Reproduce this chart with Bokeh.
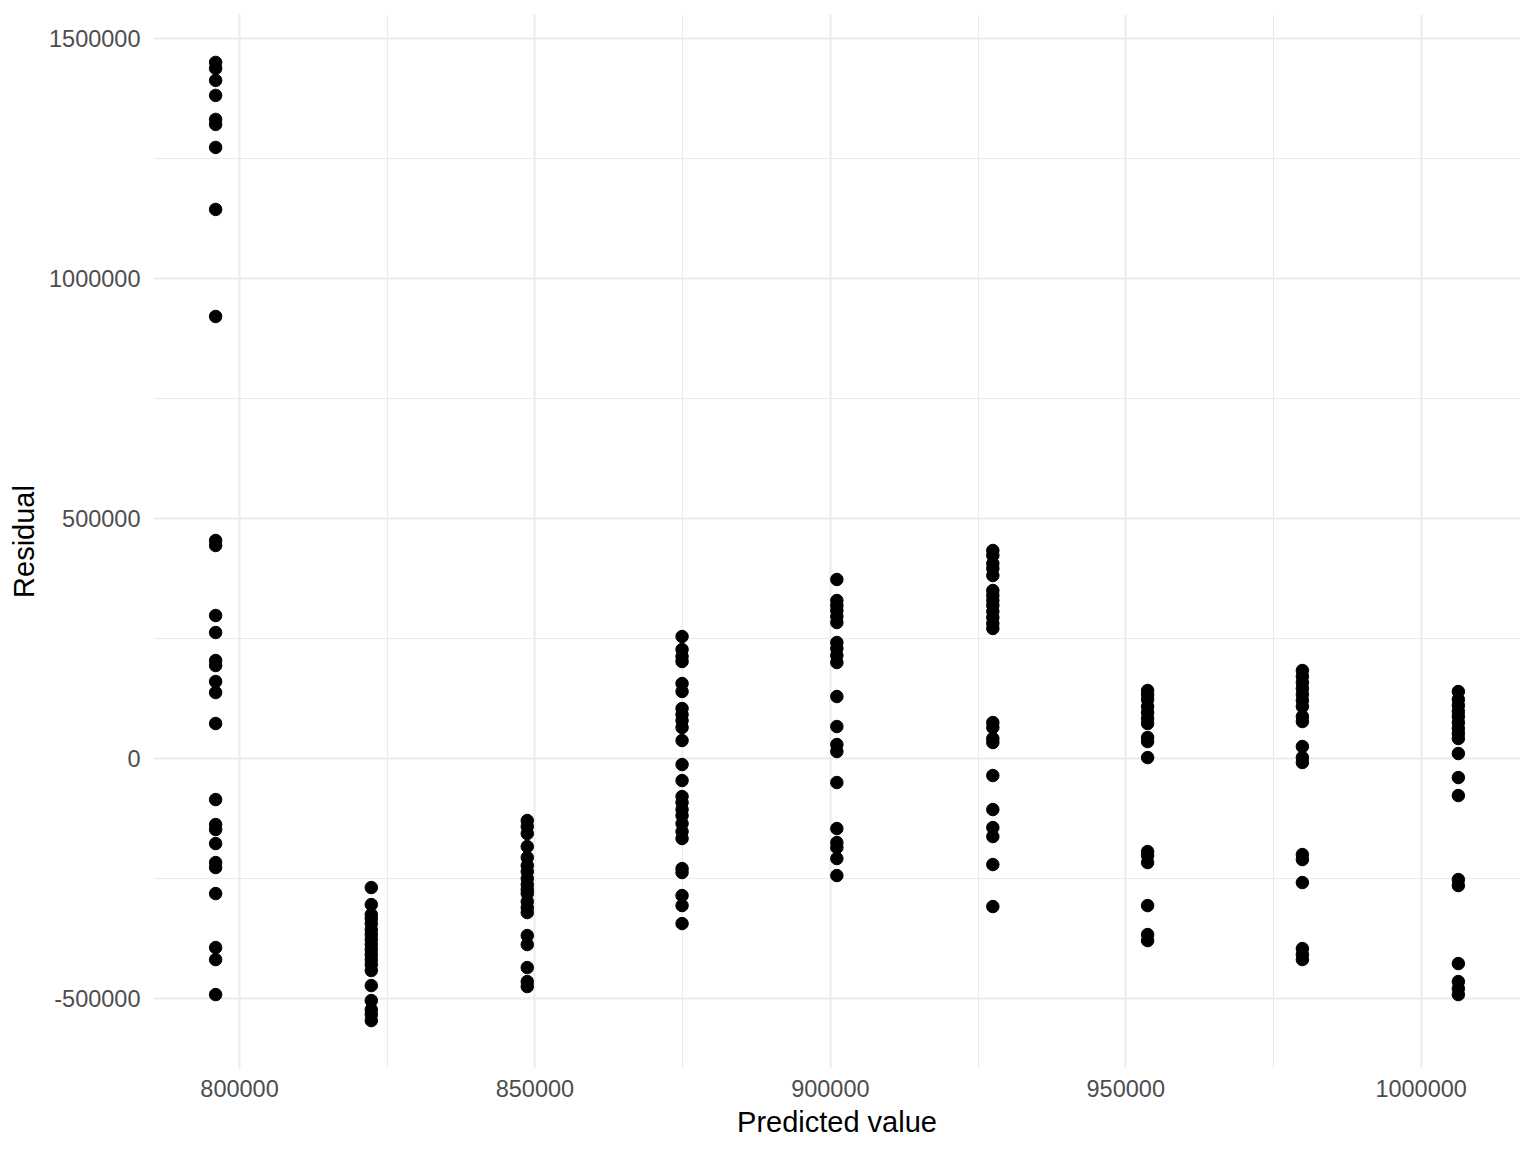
from bokeh.plotting import figure
from bokeh.models import SingleIntervalTicker, PrintfTickFormatter, Range1d, ColumnDataSource
from bokeh.embed import file_html
from bokeh.resources import INLINE

# Predicted value groups (x) and residuals (y)
pred_levels = [795950, 822300, 848700, 874900, 901100, 927500, 953700, 979900, 1006300]

res_g1 = [1450000, 1437500, 1412500, 1381250, 1331250, 1320833, 1272917, 1143750, 920833,
          454167, 443750, 297917, 262500, 204167, 193750, 160417, 137500, 72917,
          -85417, -137500, -147917, -177083, -216667, -227083, -281250, -393750, -418750, -491667]
res_g2 = [-268750, -304167, -325000, -333333, -343750, -356250, -366667, -377083, -387500,
          -397917, -408333, -418750, -429167, -441667, -472917, -504167, -522917, -533333, -545833]
res_g3 = [-129167, -141667, -156250, -183333, -206250, -222917, -235417, -250000, -262500,
          -272917, -281250, -297917, -310417, -320833, -368750, -387500, -435417, -464583, -475000]
res_g4 = [254167, 227083, 212500, 202083, 156250, 139583, 104167, 91667, 79167, 64583, 37500,
          -12500, -45833, -79167, -91667, -106250, -118750, -135417, -152083, -166667,
          -229167, -237500, -285417, -306250, -343750]
res_g5 = [372917, 329167, 318750, 308333, 295833, 283333, 241667, 229167, 214583, 200000,
          129167, 66667, 29167, 14583, -50000, -145833, -175000, -185417, -208333, -243750]
res_g6 = [433333, 422917, 406250, 395833, 381250, 350000, 339583, 329167, 318750, 306250,
          293750, 281250, 270833, 75000, 64583, 41667, 33333, -35417, -106250, -143750,
          -162500, -220833, -308333]
res_g7 = [141667, 133333, 122917, 108333, 95833, 83333, 72917, 43750, 35417, 2000,
          -193750, -202083, -216667, -306250, -366667, -379167]
res_g8 = [183333, 170833, 158333, 145833, 133333, 120833, 108333, 87500, 77083, 25000, 2083,
          -8333, -200000, -210417, -258333, -395833, -408333, -418750]
res_g9 = [139583, 122917, 110417, 97917, 87500, 75000, 62500, 52083, 41667, 10417, -39583,
          -77083, -252083, -264583, -427083, -464583, -479167, -491667]

groups = [res_g1, res_g2, res_g3, res_g4, res_g5, res_g6, res_g7, res_g8, res_g9]
xs, ys = [], []
for lvl, g in zip(pred_levels, groups):
    xs.extend([lvl] * len(g))
    ys.extend(g)
src = ColumnDataSource(dict(x=xs, y=ys))

FONT = "Liberation Sans"

p = figure(width=1520, height=1144, output_backend="svg", toolbar_location=None,
           x_range=Range1d(785433, 1016817), y_range=Range1d(-645625, 1549792),
           min_border_left=153, min_border_right=0, min_border_top=14, min_border_bottom=76)
p.outline_line_color = None
p.background_fill_color = "white"
p.border_fill_color = "white"

p.scatter("x", "y", source=src, size=12.5, color="black", line_color="black")

p.xaxis.ticker = SingleIntervalTicker(interval=50000, num_minor_ticks=2)
p.yaxis.ticker = SingleIntervalTicker(interval=500000, num_minor_ticks=2)
p.xgrid.ticker = p.xaxis.ticker
p.ygrid.ticker = p.yaxis.ticker
for ax in (p.xaxis, p.yaxis):
    ax.formatter = PrintfTickFormatter(format="%d")
    ax.axis_line_color = None
    ax.major_tick_line_color = None
    ax.minor_tick_line_color = None
    ax.major_tick_out = 0
    ax.major_tick_in = 0
    ax.minor_tick_out = 0
    ax.minor_tick_in = 0
    ax.major_label_text_font = FONT
    ax.major_label_text_font_size = "23.5px"
    ax.major_label_text_color = "#4D4D4D"
    ax.axis_label_text_font = FONT
    ax.axis_label_text_font_size = "29px"
    ax.axis_label_text_font_style = "normal"
    ax.axis_label_text_color = "black"

p.xaxis.major_label_standoff = 11
p.yaxis.major_label_standoff = 13
p.xaxis.axis_label = "Predicted value"
p.yaxis.axis_label = "Residual"
p.xaxis.axis_label_standoff = 6
p.yaxis.axis_label_standoff = 6

for g in (p.xgrid, p.ygrid):
    g.grid_line_color = "#EBEBEB"
    g.grid_line_width = 2
    g.minor_grid_line_color = "#EBEBEB"
    g.minor_grid_line_width = 1

open("out.html", "w").write(file_html(p, INLINE))
